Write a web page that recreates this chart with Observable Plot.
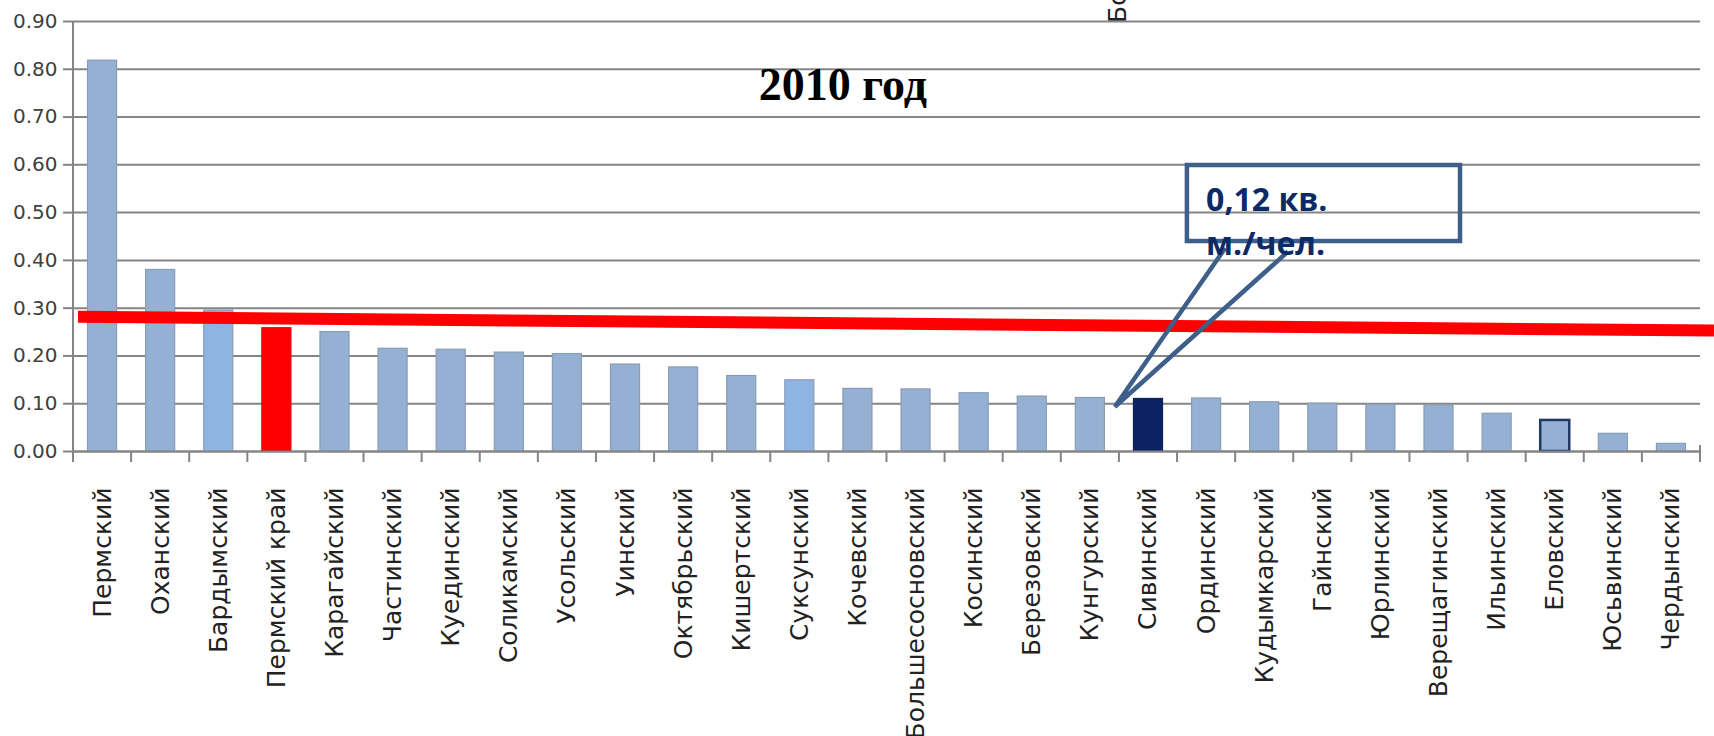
<!DOCTYPE html>
<html>
<head>
<meta charset="utf-8">
<script src="https://cdn.jsdelivr.net/npm/d3@7"></script>
<script src="https://cdn.jsdelivr.net/npm/@observablehq/plot@0.6"></script>
<style>
html, body { margin: 0; padding: 0; background: #fff; overflow: hidden; }
#chart svg { display: block; }
</style>
</head>
<body>
<div id="chart"></div>
<script>
// ---- data ----
const categories = [
  "Пермский", "Оханский", "Бардымский", "Пермский край", "Карагайский",
  "Частинский", "Куединский", "Соликамский", "Усольский", "Уинский",
  "Октябрьский", "Кишертский", "Суксунский", "Кочевский", "Большесосновский",
  "Косинский", "Березовский", "Кунгурский", "Сивинский", "Ординский",
  "Кудымкарский", "Гайнский", "Юрлинский", "Верещагинский", "Ильинский",
  "Еловский", "Юсьвинский", "Чердынский"
];
const values = [
  0.818, 0.380, 0.295, 0.258, 0.250,
  0.215, 0.213, 0.207, 0.204, 0.182,
  0.176, 0.158, 0.149, 0.131, 0.130,
  0.122, 0.115, 0.112, 0.110, 0.111,
  0.103, 0.100, 0.098, 0.096, 0.079,
  0.065, 0.037, 0.016
];
const yTicks = [0, 0.1, 0.2, 0.3, 0.4, 0.5, 0.6, 0.7, 0.8, 0.9];
const highlightRegion = "Пермский край";
const focusRegion = "Сивинский";
const outlinedRegion = "Еловский";
const brightRegions = ["Бардымский", "Суксунский"];
const avgLine = [0.281, 0.252];          // red reference line, left and right values
const titleText = "2010 год";
const calloutLines = ["0,12 кв.", "м./чел."];
const strayLabel = "Бо";

const data = categories.map((name, i) => ({name, value: values[i]}));

const W = 1714, H = 736;
const fillFor = d => d.name === highlightRegion ? "#ff0000"
  : d.name === focusRegion ? "#0c2362"
  : brightRegions.includes(d.name) ? "#8db4e2" : "#94b1d4";
const strokeFor = d => d.name === outlinedRegion ? "#1f3864"
  : d.name === highlightRegion ? "#e60000"
  : d.name === focusRegion ? "#0c2362" : "#8a9cb4";

const plot = Plot.plot({
  width: W,
  height: H,
  marginLeft: 73,
  marginRight: 14,
  marginTop: 21,
  marginBottom: 285,
  style: {background: "#fff", fontFamily: "DejaVu Sans"},
  x: {domain: categories, paddingInner: 0.5, paddingOuter: 0.25, round: false, label: null},
  y: {domain: [0, 0.9], label: null},
  marks: [
    Plot.gridY(yTicks, {stroke: "#858585", strokeOpacity: 1, strokeWidth: 2}),
    Plot.barY(data, {
      x: "name", y: "value",
      fill: fillFor, stroke: strokeFor,
      strokeWidth: d => d.name === outlinedRegion ? 2.5 : 1.2
    }),
    Plot.ruleY([0], {stroke: "#858585", strokeWidth: 2}),
    Plot.axisY(yTicks, {
      tickFormat: d3.format(".2f"), tickSize: 10, tickPadding: 6,
      fontSize: 20, fill: "#404040", stroke: "#858585", strokeWidth: 2, label: null
    }),
    Plot.axisX({
      tickRotate: -90, tickSize: 0, tickPadding: 36,
      fontSize: 25, fill: "#222", label: null
    })
  ]
});

document.getElementById("chart").appendChild(plot);

// ---- annotations positioned through the plot's own scales ----
const svg = d3.select(plot);
const xs = plot.scale("x");
const ys = plot.scale("y");
const n = categories.length;
const step = xs.step != null ? xs.step : (xs.range[1] - xs.range[0]) / n;
const x0 = xs.range[0];
const sx = s => x0 + s * step;        // position in band-slot units
const sy = v => ys.apply(v);          // position in value units

const g = svg.append("g").attr("text-anchor", "start");

// y axis line
g.append("line")
  .attr("x1", x0).attr("x2", x0)
  .attr("y1", sy(0.9)).attr("y2", sy(0) + 11)
  .attr("stroke", "#858585").attr("stroke-width", 2);

// category boundary ticks
for (let k = 1; k <= n; k++) {
  g.append("line")
    .attr("x1", sx(k)).attr("x2", sx(k))
    .attr("y1", sy(0) - (k === n ? 6 : 0)).attr("y2", sy(0) + 11)
    .attr("stroke", "#858585").attr("stroke-width", 2);
}

// red reference line
g.append("line")
  .attr("x1", sx(0.086)).attr("y1", sy(avgLine[0]))
  .attr("x2", W).attr("y2", sy(avgLine[1]))
  .attr("stroke", "#ff0000").attr("stroke-width", 12);

// title
g.append("text")
  .attr("x", sx(13.25)).attr("y", sy(0.7346))
  .attr("text-anchor", "middle")
  .attr("font-family", "Liberation Serif")
  .attr("font-weight", "bold")
  .attr("font-size", 46)
  .attr("fill", "#000")
  .text(titleText);

// stray rotated label at the top
g.append("text")
  .attr("transform", `translate(${sx(17.97) + 9},${sy(0.8958)}) rotate(-90)`)
  .attr("text-anchor", "start")
  .attr("font-size", 25)
  .attr("fill", "#222")
  .text(strayLabel);

// callout box
g.append("rect")
  .attr("x", sx(19.17)).attr("y", sy(0.5986))
  .attr("width", sx(23.87) - sx(19.17))
  .attr("height", sy(0.4395) - sy(0.5986))
  .attr("fill", "none").attr("stroke", "#3d5f8a").attr("stroke-width", 4.5);

// callout pointer
g.append("path")
  .attr("d", `M${sx(19.83)},${sy(0.4249)} L${sx(17.93)},${sy(0.0927)} L${sx(20.91)},${sy(0.4175)}`)
  .attr("fill", "none").attr("stroke", "#3d5f8a").attr("stroke-width", 4.5)
  .attr("stroke-linejoin", "miter");

// callout text
const callY = [0.503, 0.410];
calloutLines.forEach((t, i) => {
  g.append("text")
    .attr("x", sx(19.5)).attr("y", sy(callY[i]))
    .attr("text-anchor", "start")
    .attr("font-family", "Open Sans")
    .attr("font-weight", 700)
    .attr("font-size", 32)
    .attr("fill", "#0c2a66")
    .text(t);
});
</script>
</body>
</html>
